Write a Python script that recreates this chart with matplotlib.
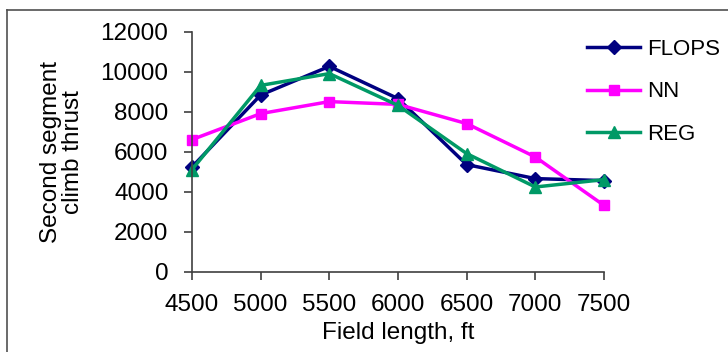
import matplotlib
matplotlib.use('Agg')
import matplotlib.pyplot as plt
from matplotlib.lines import Line2D

plt.rcParams['font.family'] = ['Liberation Sans', 'DejaVu Sans']

# field length, ft
field_length = [4500, 5000, 5500, 6000, 6500, 7000, 7500]

# second segment climb thrust
flops = [5250, 8850, 10280, 8670, 5370, 4670, 4570]
nn = [6620, 7920, 8520, 8380, 7420, 5750, 3330]
reg = [5120, 9330, 9920, 8330, 5920, 4250, 4620]

fs = 17.5
fig = plt.figure(figsize=(7.28, 3.52), dpi=100)
ax = fig.add_axes([192/728, 1-272/352, (604-192)/728, 240/352])

ax.plot(field_length, flops, color='#000080', lw=2.5, marker='D', ms=7, label='FLOPS')
ax.plot(field_length, nn, color='#ff00ff', lw=2.5, marker='s', ms=7, label='NN')
ax.plot(field_length, reg, color='#009966', lw=2.5, marker='^', ms=9, label='REG')

ax.set_xlim(4500, 7500)
ax.set_ylim(0, 12000)
ax.set_xticks(field_length)
ax.set_yticks(range(0, 12001, 2000))
for s in ['top', 'right']:
    ax.spines[s].set_visible(False)
for s in ['left', 'bottom']:
    ax.spines[s].set_color('#404040')
    ax.spines[s].set_linewidth(1.2)
ax.tick_params(axis='x', direction='out', length=5.5, width=1.2, color='#404040', labelsize=fs, pad=10)
ax.tick_params(axis='y', direction='out', length=6, width=1.2, color='#404040', labelsize=fs, pad=11)
for sp in ax.spines.values():
    sp.set_clip_on(False)
for ln in ax.lines:
    ln.set_clip_on(False)

ax.set_xlabel('Field length, ft', fontsize=fs, labelpad=5)
ax.set_ylabel('Second segment\nclimb thrust', fontsize=fs, labelpad=12, linespacing=1.0)

ax.legend(loc='upper left', bbox_to_anchor=(578/728, 1-30/352), bbox_transform=fig.transFigure,
          frameon=False, fontsize=16, handlelength=2.4, labelspacing=0.97, handletextpad=0.3,
          borderaxespad=0)

# outer frame of the figure
fig.add_artist(Line2D([7/728, 7/728], [0, 1-10/352], transform=fig.transFigure, color='#505050', lw=1.2))
fig.add_artist(Line2D([7/728, 1], [1-10/352, 1-10/352], transform=fig.transFigure, color='#505050', lw=1.2))

fig.savefig('out.png', dpi=100)
